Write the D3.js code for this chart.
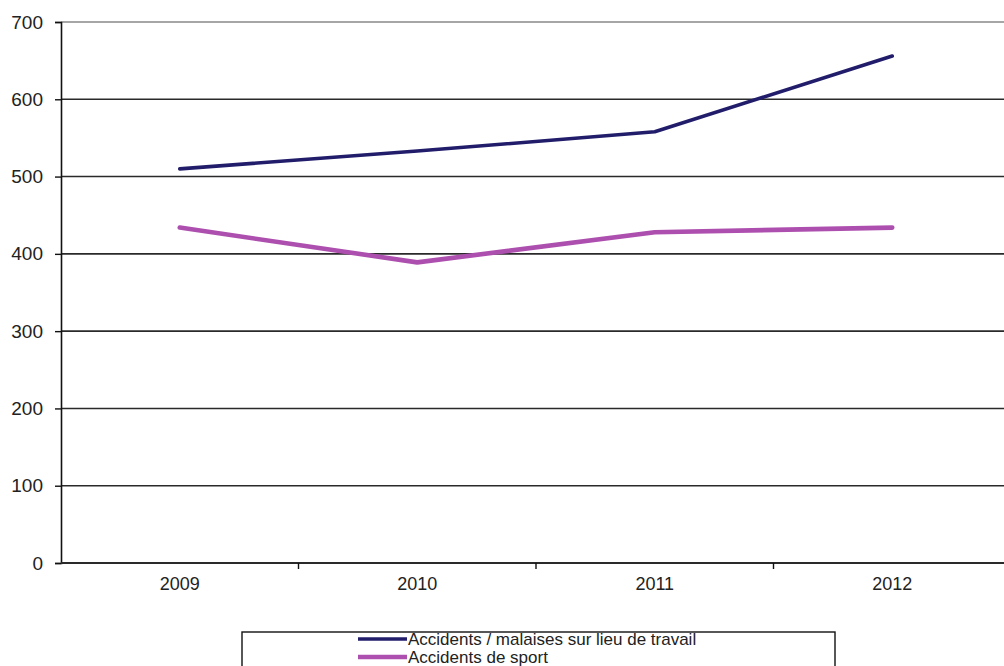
<!DOCTYPE html>
<html>
<head>
<meta charset="utf-8">
<script src="https://cdn.jsdelivr.net/npm/d3@7"></script>
<style>
  html, body { margin: 0; padding: 0; background: #fff; }
  svg { display: block; }
  text { font-family: "Liberation Sans", Arial, sans-serif; fill: #222; }
</style>
</head>
<body>
<svg id="chart" width="1004" height="666"></svg>
<script>
// Years on the category axis
const years = ["2009", "2010", "2011", "2012"];
// Interventions per year
const travail = [510, 533, 558, 656];
const sport = [434, 389, 428, 434];
// Value axis ticks
const yTicks = [0, 100, 200, 300, 400, 500, 600, 700];

const seriesNames = ["Accidents / malaises sur lieu de travail", "Accidents de sport"];
const seriesColors = ["#211d6b", "#ad4fae"];
const seriesWidths = [3.6, 4.6];

const svg = d3.select("#chart");
const plotLeft = 61, plotRight = 1011, plotTop = 22, plotBottom = 563;

const x = d3.scaleBand().domain(years).range([plotLeft, plotRight]);
const y = d3.scaleLinear().domain([0, 700]).range([plotBottom, plotTop]);

// Horizontal gridlines
svg.append("g").selectAll("line").data(yTicks.filter(d => d > 0)).join("line")
  .attr("x1", plotLeft).attr("x2", 1004)
  .attr("y1", d => y(d)).attr("y2", d => y(d))
  .attr("stroke", d => d === 700 ? "#888" : "#2a2a2a")
  .attr("stroke-width", 1.6);

// Value axis
const yAxis = svg.append("g").attr("transform", `translate(${plotLeft},0)`)
  .call(d3.axisLeft(y).tickValues(yTicks).tickSize(6).tickPadding(12).tickFormat(d3.format("d")));
yAxis.select(".domain").attr("stroke", "#111").attr("stroke-width", 1.6);
yAxis.selectAll(".tick line").attr("stroke", "#111").attr("stroke-width", 1.4);
yAxis.selectAll("text").style("font-size", "19px").attr("fill", "#222");

// Category axis
const xAxis = svg.append("g").attr("transform", `translate(0,${plotBottom})`)
  .call(d3.axisBottom(x).tickSize(0).tickPadding(14));
xAxis.select(".domain").remove();
xAxis.selectAll("text").style("font-size", "18px").attr("fill", "#222");
svg.append("line").attr("x1", plotLeft).attr("x2", 1004).attr("y1", plotBottom).attr("y2", plotBottom)
  .attr("stroke", "#2a2a2a").attr("stroke-width", 1.8);
// Tick marks at category boundaries
svg.append("g").selectAll("line").data(years.slice(1)).join("line")
  .attr("x1", d => x(d)).attr("x2", d => x(d))
  .attr("y1", plotBottom).attr("y2", plotBottom + 6)
  .attr("stroke", "#111").attr("stroke-width", 1.4);

// Series lines
const line = d3.line().x((d, i) => x(years[i]) + x.bandwidth() / 2).y(d => y(d));
[travail, sport].forEach((vals, k) => {
  svg.append("path").datum(vals)
    .attr("d", line)
    .attr("fill", "none")
    .attr("stroke", seriesColors[k])
    .attr("stroke-width", seriesWidths[k])
    .attr("stroke-linejoin", "round")
    .attr("stroke-linecap", "round");
});

// Legend
const lg = svg.append("g");
lg.append("rect").attr("x", 242).attr("y", 632).attr("width", 593).attr("height", 60)
  .attr("fill", "#fff").attr("stroke", "#111").attr("stroke-width", 1.4);
seriesNames.forEach((name, k) => {
  const cy = 639 + k * 18;
  lg.append("line").attr("x1", 358).attr("x2", 407).attr("y1", cy).attr("y2", cy)
    .attr("stroke", seriesColors[k]).attr("stroke-width", seriesWidths[k]);
  lg.append("text").attr("x", 408).attr("y", cy + 5.5)
    .style("font-size", "17px").text(name);
});
</script>
</body>
</html>
